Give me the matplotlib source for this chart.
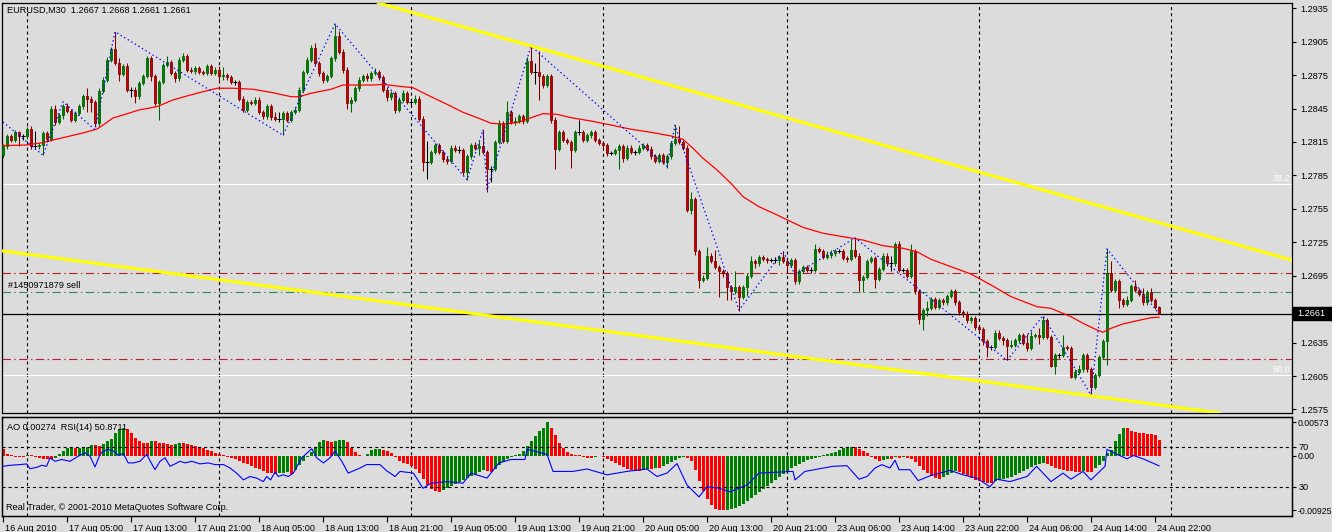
import numpy as np
import pandas as pd
import matplotlib
matplotlib.use("Agg")
import matplotlib.pyplot as plt
from matplotlib import transforms
from matplotlib.patches import Rectangle
from matplotlib.ticker import FormatStrFormatter

plt.rcParams["font.family"] = ["Liberation Sans", "DejaVu Sans"]
plt.rcParams["lines.scale_dashes"] = False

# EURUSD M30 from 16 Aug 2010 21:00, prices in pips above 1.2500
first_open = 303
close_p = [
    311, 320, 317, 324, 320, 320, 327, 311, 311, 312, 323, 318, 345, 333, 339, 347, 343, 335, 341, 347,
    356, 354, 351, 332, 361, 371, 389, 398, 386, 376, 383, 362, 362, 356, 368, 374, 390, 374, 350, 369,
    384, 387, 377, 372, 389, 392, 380, 379, 381, 378, 377, 383, 377, 380, 374, 375, 373, 369, 369, 354,
    344, 351, 350, 353, 342, 338, 347, 337, 336, 336, 341, 335, 342, 344, 362, 378, 389, 399, 386, 377,
    371, 374, 390, 410, 396, 380, 350, 353, 363, 371, 374, 372, 377, 378, 373, 362, 355, 359, 344, 353,
    359, 351, 351, 354, 336, 297, 297, 306, 312, 306, 300, 298, 310, 308, 308, 288, 302, 312, 310, 311,
    306, 291, 291, 315, 332, 316, 342, 333, 334, 338, 334, 388, 378, 378, 374, 366, 374, 335, 309, 324,
    317, 315, 308, 324, 324, 317, 321, 324, 317, 314, 312, 305, 305, 308, 311, 301, 310, 306, 306, 310,
    312, 309, 302, 298, 303, 297, 302, 314, 318, 315, 310, 254, 264, 217, 191, 193, 213, 208, 203, 199,
    197, 185, 181, 185, 176, 185, 195, 208, 206, 212, 210, 209, 209, 209, 212, 208, 205, 209, 190, 199,
    203, 200, 200, 219, 217, 212, 214, 215, 217, 217, 211, 210, 218, 213, 191, 194, 208, 211, 192, 201,
    213, 206, 206, 223, 200, 200, 195, 217, 181, 156, 164, 166, 174, 167, 173, 171, 177, 181, 171, 162,
    161, 155, 157, 149, 147, 136, 131, 131, 144, 139, 137, 132, 133, 137, 142, 135, 130, 141, 142, 140,
    155, 140, 114, 124, 124, 131, 130, 104, 109, 111, 124, 111, 95, 106, 122, 136, 197, 182, 190, 173,
    170, 173, 186, 182, 179, 171, 180, 173, 167, 161,
]
high_p = [
    313, 322, 322, 326, 325, 322, 328, 329, 325, 314, 325, 325, 347, 348, 341, 349, 350, 345, 343, 349,
    358, 363, 356, 353, 363, 373, 391, 400, 414, 390, 385, 386, 364, 364, 370, 376, 392, 392, 376, 371,
    386, 392, 389, 379, 391, 395, 394, 382, 383, 383, 380, 385, 385, 382, 383, 382, 377, 375, 371, 371,
    356, 353, 353, 355, 355, 344, 349, 349, 342, 342, 343, 343, 344, 346, 364, 380, 391, 402, 404, 388,
    379, 376, 392, 421, 415, 398, 382, 355, 365, 373, 376, 377, 379, 381, 380, 375, 364, 361, 361, 355,
    362, 361, 353, 357, 356, 338, 316, 308, 314, 314, 308, 302, 312, 312, 311, 310, 304, 314, 315, 316,
    326, 308, 293, 317, 335, 334, 352, 344, 337, 340, 340, 391, 401, 386, 397, 376, 376, 376, 337, 326,
    326, 319, 317, 326, 335, 326, 323, 326, 326, 319, 316, 314, 307, 310, 313, 313, 312, 312, 308, 312,
    314, 314, 311, 304, 305, 305, 304, 316, 330, 329, 317, 312, 270, 266, 219, 196, 221, 215, 218, 205,
    201, 199, 187, 199, 187, 187, 197, 213, 210, 214, 214, 212, 211, 212, 214, 217, 210, 211, 211, 201,
    205, 205, 203, 223, 221, 219, 217, 218, 219, 219, 219, 213, 227, 229, 215, 196, 210, 213, 213, 203,
    215, 215, 213, 225, 226, 202, 202, 223, 219, 183, 166, 172, 176, 176, 175, 175, 179, 183, 183, 173,
    164, 163, 159, 159, 151, 149, 138, 133, 146, 146, 141, 139, 137, 139, 144, 144, 143, 145, 144, 148,
    159, 157, 142, 126, 126, 142, 133, 132, 111, 115, 126, 126, 113, 108, 124, 138, 219, 208, 192, 192,
    175, 177, 188, 191, 184, 184, 182, 184, 175, 168,
]
low_p = [
    301, 309, 315, 315, 311, 317, 318, 309, 309, 309, 303, 315, 316, 330, 331, 336, 341, 333, 333, 339,
    345, 342, 342, 329, 329, 359, 369, 387, 384, 370, 374, 360, 355, 350, 354, 366, 372, 370, 347, 335,
    367, 382, 375, 369, 370, 387, 378, 377, 376, 376, 375, 375, 375, 375, 369, 371, 371, 367, 366, 352,
    342, 342, 348, 348, 340, 336, 336, 335, 334, 333, 321, 333, 333, 340, 342, 360, 376, 387, 384, 374,
    368, 369, 372, 388, 394, 377, 345, 342, 351, 361, 369, 370, 370, 375, 371, 360, 352, 353, 341, 342,
    351, 349, 348, 349, 334, 289, 282, 295, 304, 304, 297, 295, 296, 306, 305, 285, 281, 300, 308, 303,
    304, 270, 279, 289, 313, 314, 314, 331, 330, 332, 331, 332, 376, 367, 353, 363, 364, 332, 291, 307,
    315, 313, 292, 306, 321, 315, 315, 319, 315, 312, 309, 302, 303, 303, 291, 297, 299, 304, 303, 304,
    308, 307, 300, 296, 296, 295, 292, 300, 312, 313, 308, 252, 250, 214, 184, 189, 191, 206, 201, 176,
    194, 173, 173, 179, 163, 174, 177, 193, 202, 204, 208, 206, 207, 206, 205, 206, 200, 203, 188, 188,
    197, 198, 197, 198, 215, 210, 210, 211, 213, 215, 209, 207, 208, 211, 181, 180, 192, 206, 184, 190,
    199, 204, 199, 204, 198, 198, 193, 193, 179, 152, 146, 159, 164, 165, 165, 169, 169, 175, 169, 160,
    158, 153, 153, 146, 145, 133, 122, 128, 129, 137, 133, 119, 130, 131, 135, 133, 127, 128, 139, 134,
    138, 138, 113, 107, 121, 122, 128, 103, 102, 107, 109, 109, 88, 93, 104, 120, 115, 180, 180, 166,
    167, 168, 171, 180, 177, 169, 169, 171, 165, 161,
]

# red moving average, read at sample bars
ma_bar = [0, 6, 10, 12.5, 16, 20, 23.5, 25, 27.5, 30, 34, 38.5, 42.5, 46, 50, 53.5, 57.5, 62.5, 67.5, 72,
          74, 77, 82, 85, 92.5, 95, 98.5, 102.5, 107, 111, 115, 119, 122, 125, 129, 132, 135, 138.5, 142, 147,
          152, 157, 162, 167, 170, 172.5, 175, 178.5, 182, 185, 189, 193.5, 197, 200, 205, 210, 215, 220, 225, 228.5,
          232, 237, 242, 247, 252, 258.5, 262, 267, 270, 273.5, 275, 277, 280, 283.5, 287, 289]
ma_p = [311.7, 312.3, 314.4, 316.8, 319.7, 323.1, 326.6, 330.2, 336.5, 339.2, 343.7, 346.7, 352.7, 356.3, 360.1,
        363.2, 363.2, 362.3, 359.2, 355.6, 355.6, 358.7, 362.3, 366.1, 366.1, 366.7, 365.2, 363.7, 355.6, 348.8,
        341.6, 336.2, 331.8, 330.9, 332.7, 336.8, 340.4, 339.8, 336.8, 333.8, 330.2, 326.4, 323.7, 320.4, 317.4,
        309.3, 300.4, 289.9, 277.9, 265.9, 256.9, 249.5, 243.5, 238.4, 233.1, 230.0, 227.0, 221.9, 219.6, 216.5,
        209.7, 203.1, 196.5, 186.7, 176.2, 167.2, 165.7, 158.2, 152.3, 146.3, 144.2, 147.8, 151.7, 154.6, 157.3, 157.7]

# zigzag vertices
zz_bar = [0, 10, 15, 23, 28, 70, 83, 116, 120, 121, 132, 166, 168, 184, 195, 198, 213, 251, 260, 272, 276, 289]
zz_p = [333, 303, 351, 326, 414, 321, 421, 281, 326, 272, 401, 293, 330, 164, 217, 196, 229, 119, 159, 88, 219, 161]

# Awesome Oscillator in units of 0.00001
ao_raw = [
    114, 29, 12, -17, -17, -17, 12, 9, -17, -34, -43, -51, -56, -29, 39, 85, 131, 133, 131, 134,
    142, 154, 183, 181, 171, 200, 256, 295, 398, 456, 483, 456, 388, 313, 256, 227, 217, 256, 254, 227,
    217, 200, 183, 200, 227, 225, 200, 183, 171, 142, 131, 102, 80, 56, 29, 12, -12, -29, -56, -85,
    -114, -142, -171, -200, -227, -256, -285, -295, -299, -295, -285, -273, -313, -239, -154, -85, -17, 68, 154, 239,
    273, 248, 231, 256, 268, 273, 239, 142, 68, 12, 0, 29, 97, 114, 116, 102, 85, 56, -12, -85,
    -120, -137, -171, -222, -290, -393, -495, -564, -598, -615, -581, -547, -512, -478, -444, -410, -376, -342, -307, -273,
    -239, -256, -273, -222, -154, -102, -51, -17, 9, 34, 85, 171, 256, 342, 427, 478, 573, 478, 359, 222,
    137, 68, 34, 17, 9, -17, -34, -34, -17, 0, -17, -51, -85, -120, -154, -188, -222, -239, -256, -256,
    -239, -222, -222, -205, -205, -171, -137, -102, -68, -34, -17, -34, -85, -239, -427, -598, -734, -837, -905, -925,
    -925, -922, -905, -888, -854, -820, -769, -717, -666, -615, -564, -512, -461, -410, -359, -307, -256, -205, -171, -137,
    -102, -68, -51, -34, -17, 17, 34, 51, 68, 102, 137, 154, 159, 154, 120, 85, 51, -17, -51, -85,
    -68, -51, -51, -17, -34, -17, -34, -51, -102, -171, -239, -290, -342, -376, -393, -359, -325, -290, -256, -273,
    -307, -342, -376, -410, -427, -444, -461, -461, -427, -410, -393, -376, -359, -325, -290, -256, -222, -188, -154, -137,
    -120, -137, -171, -205, -222, -239, -256, -256, -273, -273, -256, -273, -273, -205, -154, -85, 51, 102, 256, 376,
    478, 478, 427, 410, 393, 393, 376, 376, 359, 274,
]

# RSI(14), read at sample bars
rsi_bar = [0, 1.75, 4.25, 5.9, 6.75, 8.4, 9.7, 10.9, 11.75, 13, 14.7, 16.75, 18.8, 20.5, 21.75, 23, 24.25, 25.1, 26.3, 27.6,
           28.8, 30.1, 31.3, 32.6, 34.25, 35.9, 38, 39.25, 40.5, 41.75, 43, 44.25, 45.5, 47.2, 49.25, 51.3, 53, 55.1, 56.75, 58.4,
           60.1, 61.75, 63.4, 65.1, 65.9, 66.9, 68, 68.8, 70.1, 71.3, 72.6, 74.7, 77.2, 78.4, 80.1, 81.75, 83, 84.7, 86.3, 89.25,
           90.9, 94.25, 95.9, 98, 99.25, 102.6, 105,
           107, 111, 115, 117, 121, 124, 127, 130.5, 131, 136, 137.5, 142.5, 146, 151, 156, 161, 163.5, 166, 168.5, 171,
           174, 176, 179, 181.75, 186, 189, 197.5, 198, 200.5, 207.5, 211, 214, 216, 218, 219.7, 221.75, 223, 224, 226.75, 228.8,
           231.75, 236.75, 240, 243.4, 246.75, 248.4, 251.75, 256, 258.4, 262, 265, 267, 270, 272, 275.5, 276, 278, 281, 282.6, 285,
           289]
rsi_val = [50.4, 51.4, 52.1, 52.8, 48, 49.3, 51.4, 50.4, 58.9, 55.4, 57.2, 55.4, 60.5, 64, 60.5, 49.7, 62.3, 65.6, 67.3, 65.6,
           61.5, 63, 53.8, 53.8, 55.4, 62.3, 47, 55.4, 58.9, 50.4, 52.8, 55.4, 53.8, 55.4, 52.8, 53.8, 52.1, 52.1, 48.7, 43.6,
           36.8, 40.2, 38.6, 35.1, 40.2, 36.8, 44.7, 40.2, 41.9, 40.2, 43.6, 58.9, 68, 58.9, 53.8, 58.9, 65.6, 55.4, 43.6, 48.7,
           52.1, 52.1, 46, 40.2, 45.3, 43.6, 28.4,
           33.5, 35.1, 33.5, 43.6, 38.6, 53.8, 57.2, 57.2, 67.4, 62.3, 45.3, 45.3, 47.7, 41.9, 45.3, 47.7, 40.2, 43.6, 53.1, 31.7,
           19.8, 30, 28.4, 24.9, 31.7, 43.6, 45.3, 36.8, 45.3, 50.4, 51, 37.5, 40.2, 48.7, 52, 48.7, 56.5, 47, 47, 36.1,
           40.9, 46.3, 41.9, 38.6, 30, 37.5, 35.1, 40.2, 50.4, 35.1, 43.6, 37.5, 45.3, 36.8, 50.4, 67.4, 63.3, 57.9, 61.2, 57.9,
           50.8711]

# chart objects
upper_tl = [(180, 1.28527), (300, 1.27315)]
lower_tl = [(0, 1.27172), (300, 1.25738)]
fib_levels = [1.27773, 1.26059]
fib_names = ["38.2", "50.0"]
order_open, order_sl, order_tp = 1.2680, 1.2697, 1.2620
order_label = "#1450971879 sell"

BG = "#dcdcdc"
G_BODY, G_EDGE = "#008000", "#006400"
R_BODY, R_EDGE = "#cc0000", "#800000"
FS = 6.6

pip = 1e-4
cp = np.array(close_p)
op = np.r_[first_open, cp[:-1]]
c = 1.25 + cp * pip
o = 1.25 + op * pip
hi = 1.25 + np.maximum(np.array(high_p), np.maximum(cp, op)) * pip
lo = 1.25 + np.minimum(np.array(low_p), np.minimum(cp, op)) * pip
n = len(c)
x = np.arange(n)

# bar times (weekend removed)
times = pd.date_range("2010-08-16 21:00", "2010-08-25 00:00", freq="30min")
times = times[(times < "2010-08-20 23:00") | (times >= "2010-08-23 00:00")]
lab_idx = list(range(0, n, 16))
lab_txt = ["16 Aug 2010"] + [times[i].strftime("%d %b %H:%M") for i in lab_idx[1:]]
day_idx = [i for i, t in enumerate(times) if t.hour == 0 and t.minute == 0]

W, H = 1332, 532
def box(x0, y0, x1, y1):
    return [x0 / W, 1 - y1 / H, (x1 - x0) / W, (y1 - y0) / H]

fig = plt.figure(figsize=(13.32, 5.32), dpi=100, facecolor=BG)
ax = fig.add_axes(box(2, 3, 1292, 413), facecolor=BG)
axi = fig.add_axes(box(2, 417, 1292, 516), facecolor=BG, sharex=ax)
xl = (-0.25, 322.25)

# ---- main price panel ----
for d in day_idx:
    ax.axvline(d, color="black", lw=0.8, ls=(0, (2.2, 2.2)), zorder=1)
for lv, nm in zip(fib_levels, fib_names):
    ax.axhline(lv, color="white", lw=0.8, zorder=2)
    ax.text(xl[1] - 0.4, lv + 0.00012, nm, color="white", fontsize=FS, ha="right", va="bottom")
ax.axhline(order_sl, color="#b22222", lw=0.8, ls=(0, (6, 2.5, 1, 2.5)), zorder=2)
ax.axhline(order_tp, color="#b22222", lw=0.8, ls=(0, (6, 2.5, 1, 2.5)), zorder=2)
ax.axhline(order_open, color="#2e8b57", lw=0.8, ls=(0, (6, 2.5, 1, 2.5)), zorder=2)
ax.axhline(c[-1], color="black", lw=0.9, zorder=2)

up = cp > op
dn = cp < op
dj = cp == op
wick_col = np.where(up, G_EDGE, np.where(dn, R_EDGE, "black"))
ax.vlines(x, lo, hi, colors=wick_col, lw=0.75, zorder=3)
ax.bar(x[up], (c - o)[up], bottom=o[up], width=0.62, color=G_BODY, edgecolor=G_EDGE, lw=0.6, zorder=4)
ax.bar(x[dn], (o - c)[dn], bottom=c[dn], width=0.62, color=R_BODY, edgecolor=R_EDGE, lw=0.6, zorder=4)
ax.hlines(c[dj], x[dj] - 0.4, x[dj] + 0.4, colors="black", lw=0.75, zorder=4)

ax.plot(ma_bar, 1.25 + np.array(ma_p) * pip, color="#ff0000", lw=0.9, zorder=5)
ax.plot(zz_bar, 1.25 + np.array(zz_p) * pip, color="#0000ff", lw=0.9, ls=(0, (1, 2)), zorder=5)
ax.axline(*upper_tl, color="#ffff00", lw=2.2, zorder=5)
ax.axline(*lower_tl, color="#ffff00", lw=2.2, zorder=5)

ax.set_xlim(*xl)
ax.set_ylim(1.25718, 1.29397)
ax.yaxis.tick_right()
ax.set_yticks(np.arange(1.2575, 1.29351, 0.003))
ax.yaxis.set_major_formatter(FormatStrFormatter("%.4f"))
ax.tick_params(axis="y", length=3, width=0.8, labelsize=FS, pad=3)
ax.tick_params(axis="x", bottom=False, labelbottom=False)
for s in ax.spines.values():
    s.set_linewidth(0.9)

# ---- AO / RSI panel ----
ao = np.array(ao_raw) * 1e-5
ao_up = np.r_[False, ao[1:] > ao[:-1]]
axi.bar(x, ao, width=0.75, color=np.where(ao_up, "#008000", "#ff0000"), zorder=2)
for d in day_idx:
    axi.axvline(d, color="black", lw=0.8, ls=(0, (2.2, 2.2)), zorder=1)
axi.set_ylim(-0.010248, 0.006661)

axr = axi.twinx()
axr.set_ylim(0.7, 99.7)
axr.axhline(70, color="black", lw=0.8, ls=(0, (2.2, 2.2)), zorder=1)
axr.axhline(30, color="black", lw=0.8, ls=(0, (2.2, 2.2)), zorder=1)
axr.plot(rsi_bar, rsi_val, color="#0000ff", lw=0.8, zorder=3)
axr.set_yticks([70, 30])
axr.tick_params(axis="y", length=3, width=0.8, labelsize=FS, pad=2)

# twinx moves the AO ticks to the left, put them back on the right
axi.yaxis.tick_right()
axi.set_yticks([0.00573, 0.0, -0.00925])
axi.set_yticklabels(["0.00573", "0.00", "-0.00925"])
axi.tick_params(axis="y", length=3, width=0.8, labelsize=6.3, pad=1.2)

axi.set_xlim(*xl)
axi.set_xticks(lab_idx)
axi.set_xticklabels(lab_txt, ha="left")
axi.tick_params(axis="x", length=4, width=0.8, labelsize=FS, pad=2)
shift = transforms.ScaledTranslation(2 / 100, 0, fig.dpi_scale_trans)
for lb in axi.get_xticklabels():
    lb.set_transform(lb.get_transform() + shift)
for a in (axi, axr):
    for s in a.spines.values():
        s.set_linewidth(0.9)

# ---- texts ----
fig.text(7 / W, 1 - 10 / H,
         f"EURUSD,M30  {o[-1]:.4f} {hi[-1]:.4f} {lo[-1]:.4f} {c[-1]:.4f}",
         fontsize=FS, va="center", ha="left")
fig.text(8 / W, 1 - 286 / H, order_label, fontsize=FS, va="center", ha="left")
fig.text(7 / W, 1 - 427 / H, f"AO {ao[-1]:.5f}  RSI(14) {rsi_val[-1]:.4f}",
         fontsize=FS, va="center", ha="left")
fig.text(6 / W, 1 - 507 / H, "Real Trader, \u00a9 2001-2010 MetaQuotes Software Corp.",
         fontsize=FS, va="center", ha="left")
fig.patches.append(Rectangle((1293 / W, 1 - 320 / H), 39 / W, 13 / H,
                             transform=fig.transFigure, color="black", zorder=10))
fig.text(1297 / W, 1 - 313.5 / H, f"{c[-1]:.4f}", color="white", fontsize=FS,
         va="center", ha="left", zorder=11)

fig.savefig("out.png", dpi=100, facecolor=BG)
